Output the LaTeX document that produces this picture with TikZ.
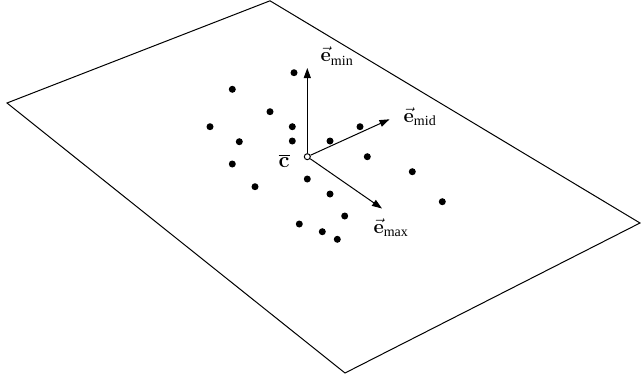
\documentclass[tikz,border=0pt]{standalone}
\usepackage{amsmath}
\usepackage{fontspec}
\setmainfont{Liberation Serif}
\newfontfamily\lmfont{Latin Modern Roman}
\usetikzlibrary{arrows.meta}
\newcommand{\bvec}[1]{\text{\lmfont\bfseries #1}}
\tikzset{
  plane/.style={draw=black, line width=1pt, line join=miter},
  pt/.style={circle, fill=black, inner sep=0pt, minimum size=7pt},
  centre/.style={circle, draw=black, fill=white, line width=1pt, inner sep=0pt, minimum size=6pt},
  axis/.style={line width=1pt, -{Triangle[length=10pt,width=7pt]}},
  lbl/.style={inner sep=0pt, font=\fontsize{20}{24}\selectfont}
}
\begin{document}
\begin{tikzpicture}[x=1pt,y=-1pt]
\useasboundingbox (0,0) rectangle (641,381);
% the supporting plane
\coordinate (p1) at (7,103);
\coordinate (p2) at (270,0.8);
\coordinate (p3) at (640,223);
\coordinate (p4) at (345,373);
\draw[plane] (p1) -- (p2) -- (p3) -- (p4) -- cycle;
% sample points
\foreach \x/\y [count=\i] in {294/72.7, 232.3/89.3, 270/111.7, 210/126.7, 292.3/126.7,
  360/126.7, 239.3/141.7, 292.3/141, 330/141, 232.3/164, 367.3/156.7, 412.3/171.7,
  255/186.7, 307.3/179, 330/194, 442.3/201.7, 344.7/216, 299.3/224, 322.3/231.7, 337.3/239.3}
  \node[pt] (d\i) at (\x,\y) {};
% centroid and principal directions
\node[centre] (c) at (307.3,156.7) {};
\coordinate (tmin) at (307.3,68);
\coordinate (tmid) at (389.5,119.3);
\coordinate (tmax) at (382,208.5);
\draw[axis] (c) -- (tmin);
\draw[axis] (c) -- (tmid);
\draw[axis] (c) -- (tmax);
\node[lbl] (lmin) at (337,56) {$\vec{\bvec{e}}_{\textrm{min}}$};
\node[lbl] (lmid) at (420,117) {$\vec{\bvec{e}}_{\textrm{mid}}$};
\node[lbl] (lmax) at (391,228) {$\vec{\bvec{e}}_{\textrm{max}}$};
\node[lbl, font=\fontsize{22}{26}\selectfont] (lc) at (284,161) {$\overline{\bvec{c}}$};
\end{tikzpicture}
\end{document}
